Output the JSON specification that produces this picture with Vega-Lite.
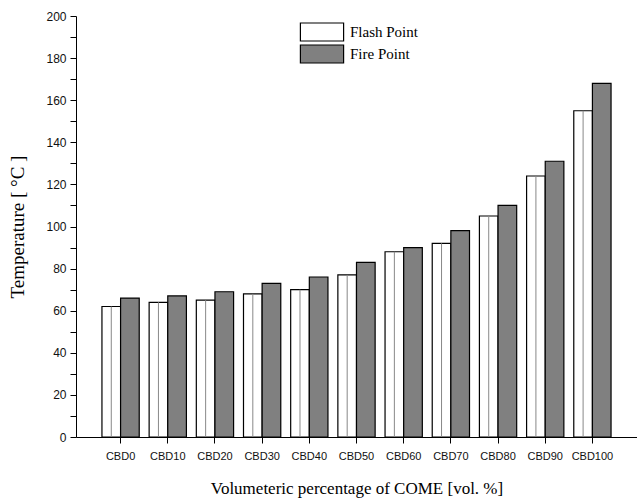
{
  "$schema": "https://vega.github.io/schema/vega-lite/v6.json",
  "autosize": {"type": "none"},
  "padding": {"left": 76, "top": 16, "right": 0, "bottom": 64},
  "width": 561,
  "height": 421,
  "background": "white",
  "config": {"view": {"stroke": null}},
  "data": {
    "values": [
      {"sample": "CBD0", "type": "Flash Point", "temp": 62},
      {"sample": "CBD0", "type": "Fire Point", "temp": 66},
      {"sample": "CBD10", "type": "Flash Point", "temp": 64},
      {"sample": "CBD10", "type": "Fire Point", "temp": 67},
      {"sample": "CBD20", "type": "Flash Point", "temp": 65},
      {"sample": "CBD20", "type": "Fire Point", "temp": 69},
      {"sample": "CBD30", "type": "Flash Point", "temp": 68},
      {"sample": "CBD30", "type": "Fire Point", "temp": 73},
      {"sample": "CBD40", "type": "Flash Point", "temp": 70},
      {"sample": "CBD40", "type": "Fire Point", "temp": 76},
      {"sample": "CBD50", "type": "Flash Point", "temp": 77},
      {"sample": "CBD50", "type": "Fire Point", "temp": 83},
      {"sample": "CBD60", "type": "Flash Point", "temp": 88},
      {"sample": "CBD60", "type": "Fire Point", "temp": 90},
      {"sample": "CBD70", "type": "Flash Point", "temp": 92},
      {"sample": "CBD70", "type": "Fire Point", "temp": 98},
      {"sample": "CBD80", "type": "Flash Point", "temp": 105},
      {"sample": "CBD80", "type": "Fire Point", "temp": 110},
      {"sample": "CBD90", "type": "Flash Point", "temp": 124},
      {"sample": "CBD90", "type": "Fire Point", "temp": 131},
      {"sample": "CBD100", "type": "Flash Point", "temp": 155},
      {"sample": "CBD100", "type": "Fire Point", "temp": 168}
    ]
  },
  "encoding": {
    "x": {
      "field": "sample", "type": "nominal", "sort": null,
      "scale": {"paddingInner": 0.21, "paddingOuter": 0.55},
      "axis": {
        "title": "Volumeteric percentage of COME [vol. %]",
        "titleFont": "Liberation Serif", "titleFontSize": 17, "titleFontWeight": "normal", "titleColor": "#000",
        "titlePadding": 19,
        "labelFont": "Liberation Sans", "labelFontSize": 11, "labelColor": "#111", "labelAngle": 0, "labelPadding": 7,
        "domainColor": "#000", "tickColor": "#000", "tickSize": 6, "labelOverlap": false
      }
    },
    "xOffset": {"field": "type", "type": "nominal", "sort": ["Flash Point", "Fire Point"], "scale": {"paddingInner": 0}},
    "y": {
      "field": "temp", "type": "quantitative",
      "scale": {"domain": [0, 200], "nice": false},
      "axis": {
        "title": "Temperature [ °C ]",
        "titleFont": "Liberation Serif", "titleFontSize": 19, "titleFontWeight": "normal", "titleColor": "#000",
        "titlePadding": 18,
        "values": [0,10,20,30,40,50,60,70,80,90,100,110,120,130,140,150,160,170,180,190,200],
        "labelExpr": "datum.value % 20 == 0 ? datum.label : ''",
        "labelFont": "Liberation Sans", "labelFontSize": 12, "labelColor": "#111", "labelPadding": 4,
        "domainColor": "#000", "tickColor": "#000", "tickSize": 6, "grid": false
      }
    }
  },
  "layer": [
    {
      "mark": {"type": "bar", "stroke": "#000", "strokeWidth": 1.2},
      "encoding": {
        "fill": {
          "field": "type", "type": "nominal", "sort": ["Flash Point", "Fire Point"],
          "scale": {"domain": ["Flash Point", "Fire Point"], "range": ["#ffffff", "#808080"]},
          "legend": {
            "title": null, "orient": "none", "legendX": 236, "legendY": 6,
            "symbolType": "M-2.4,-1H2.4V1H-2.4Z", "symbolSize": 324,
            "symbolStrokeColor": "#000", "symbolStrokeWidth": 1.2,
            "labelFont": "Liberation Serif", "labelFontSize": 15, "labelColor": "#000",
            "rowPadding": -2, "labelOffset": 18
          }
        }
      }
    },
    {
      "transform": [{"filter": "datum.type == 'Flash Point'"}],
      "mark": {"type": "rule", "color": "#888", "strokeWidth": 1},
      "encoding": {"y2": {"datum": 0}}
    }
  ]
}
